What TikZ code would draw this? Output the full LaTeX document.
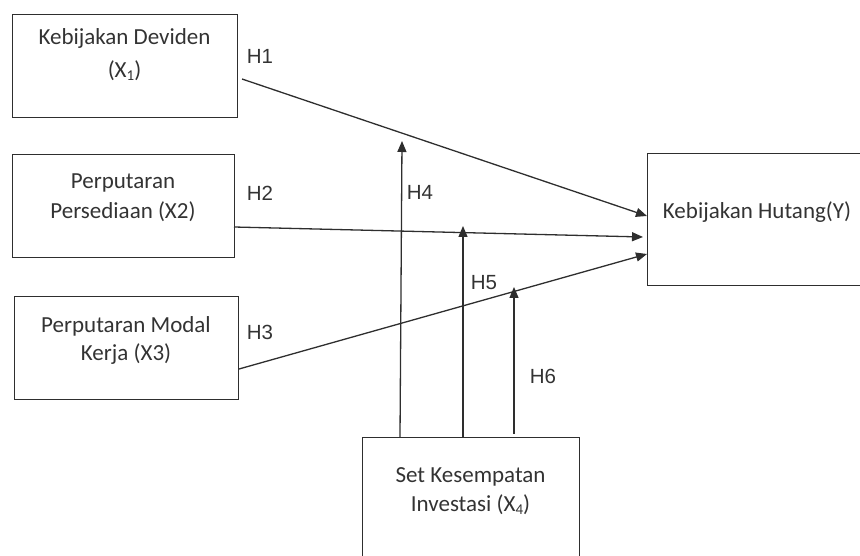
\documentclass[tikz,border=0pt]{standalone}
\usepackage{fontspec}
\setmainfont{Carlito}
\newfontfamily\hfont{Liberation Sans}
\usetikzlibrary{arrows.meta}
\definecolor{ink}{HTML}{2E2E2E}
\definecolor{txt}{HTML}{333333}
\tikzset{
  boxnode/.style={draw=ink, line width=1.3pt, inner sep=0pt, anchor=north west},
  boxtext/.style={text=txt, font=\fontsize{23}{26}\selectfont, inner sep=0pt, anchor=center},
  hlabel/.style={text=txt, font=\hfont\fontsize{20.5}{24}\selectfont, inner sep=0pt, anchor=center},
  arr/.style={draw=ink, line width=1.3pt, -{Triangle[length=11pt,width=9pt]}},
}
\newcommand{\subx}[1]{\raisebox{-0.12em}{\fontsize{15}{16}\selectfont #1}}
\begin{document}
\begin{tikzpicture}[x=1pt,y=-1pt]
\useasboundingbox (0,0) rectangle (860,556);
% boxes
\node[boxnode, minimum width=225pt, minimum height=103pt] (b1) at (12,14) {};
\node[boxnode, minimum width=222pt, minimum height=103pt] (b2) at (12,154) {};
\node[boxnode, minimum width=224pt, minimum height=103pt] (b3) at (14,296) {};
\node[boxnode, minimum width=213pt, minimum height=132pt] (y) at (647,153) {};
\node[boxnode, minimum width=217pt, minimum height=130pt] (x4) at (362,437) {};
% box texts
\node[boxtext] (t1a) at (124.5,38) {Kebijakan Deviden};
\node[boxtext] (t1b) at (124.5,71) {(X\subx{1})};
\node[boxtext] (t2a) at (123,183) {Perputaran};
\node[boxtext] (t2b) at (123,212) {Persediaan (X2)};
\node[boxtext] (t3a) at (126,326) {Perputaran Modal};
\node[boxtext] (t3b) at (126,354) {Kerja (X3)};
\node[boxtext] (ty) at (757,212) {Kebijakan Hutang(Y)};
\node[boxtext] (t4a) at (470.5,477) {Set Kesempatan};
\node[boxtext] (t4b) at (470.5,505) {Investasi (X\subx{4})};
% hypothesis labels
\node[hlabel] (h1) at (260,56) {H1};
\node[hlabel] (h2) at (260,193) {H2};
\node[hlabel] (h3) at (260,332) {H3};
\node[hlabel] (h4) at (420,192) {H4};
\node[hlabel] (h5) at (484,283) {H5};
\node[hlabel] (h6) at (543,376) {H6};
% connector coordinates
\coordinate (s1) at (242,79);
\coordinate (e1) at (647,216);
\coordinate (s2) at (234,227);
\coordinate (e2) at (643,237);
\coordinate (s3) at (239,369);
\coordinate (e3) at (647,254);
\coordinate (v4s) at (400,437);
\coordinate (v4e) at (402,141);
\coordinate (v5s) at (463,437);
\coordinate (v5e) at (463,226);
\coordinate (v6s) at (514,434);
\coordinate (v6e) at (514,287);
\draw[arr] (s1) -- (e1);
\draw[arr] (s2) -- (e2);
\draw[arr] (s3) -- (e3);
\draw[arr] (v4s) -- (v4e);
\draw[arr] (v5s) -- (v5e);
\draw[arr] (v6s) -- (v6e);
\end{tikzpicture}
\end{document}
